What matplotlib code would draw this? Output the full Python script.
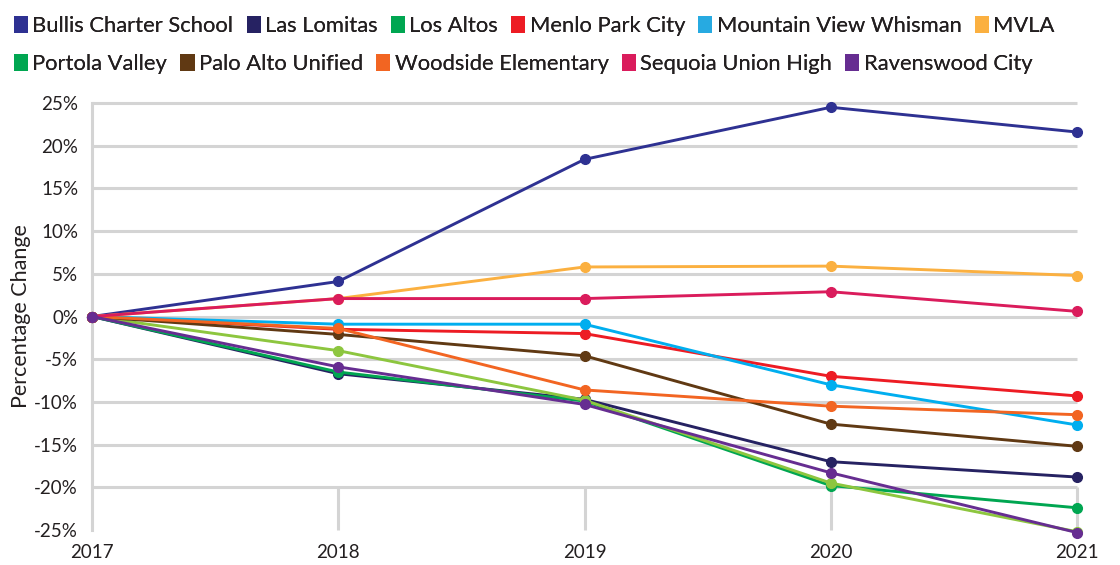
import matplotlib
matplotlib.use("Agg")
import matplotlib.pyplot as plt
from matplotlib.patches import Patch
from matplotlib.ticker import FuncFormatter

years = [2017, 2018, 2019, 2020, 2021]

districts = ["Bullis Charter School", "Las Lomitas", "Los Altos", "Menlo Park City",
             "Mountain View Whisman", "MVLA", "Portola Valley", "Palo Alto Unified",
             "Woodside Elementary", "Sequoia Union High", "Ravenswood City"]

bullis = [0, 4.1, 18.4, 24.5, 21.6]
las_lomitas = [0, -6.7, -9.7, -17.0, -18.8]
los_altos = [0, -6.5, -9.9, -19.8, -22.4]
menlo_park = [0, -1.5, -2.0, -7.0, -9.3]
mv_whisman = [0, -0.9, -0.9, -8.0, -12.7]
mvla = [0, 2.1, 5.8, 5.9, 4.8]
portola_valley = [0, -4.0, -9.8, -19.5, -25.2]
palo_alto = [0, -2.1, -4.6, -12.6, -15.2]
woodside = [0, -1.4, -8.6, -10.5, -11.5]
sequoia = [0, 2.1, 2.1, 2.9, 0.6]
ravenswood = [0, -5.9, -10.3, -18.3, -25.3]

series = [bullis, las_lomitas, los_altos, menlo_park, mv_whisman, mvla,
          portola_valley, palo_alto, woodside, sequoia, ravenswood]

line_colors = ["#2e3192", "#262262", "#00a651", "#ed1c24", "#00aeef", "#fbb040",
               "#8dc63f", "#603913", "#f26522", "#da1c5c", "#662d91"]
legend_colors = ["#2e3192", "#262262", "#00a651", "#ed1c24", "#27aae1", "#fbb040",
                 "#00a651", "#603913", "#f26522", "#da1c5c", "#662d91"]

y_ticks = [-25, -20, -15, -10, -5, 0, 5, 10, 15, 20, 25]

TEXT = "#231f20"
GRID = "#d4d4d4"
plt.rcParams["font.family"] = ["Lato", "DejaVu Sans"]

fig = plt.figure(figsize=(11.2, 5.65), dpi=100)
ax = fig.add_axes([92 / 1120, 1 - 530 / 565, (1077 - 92) / 1120, (530 - 103) / 565])

ax.set_xlim(years[0], years[-1])
ax.set_ylim(y_ticks[0], y_ticks[-1])

# grid
ax.hlines(y_ticks[1:], years[0], years[-1], color=GRID, lw=2.2, zorder=0, clip_on=False)
ax.vlines(years[1:], y_ticks[0], y_ticks[1], color=GRID, lw=2.2, zorder=0, clip_on=False)

for s in ["top", "right", "bottom"]:
    ax.spines[s].set_visible(False)
ax.spines["left"].set_color(GRID)
ax.spines["left"].set_linewidth(2.2)
ax.spines["left"].set_zorder(0)

for vals, col in zip(series, line_colors):
    ax.plot(years, vals, color=col, lw=2.1, marker="o", markersize=7,
            clip_on=False, zorder=3)

ax.set_xticks(years)
ax.set_xticklabels([str(y) for y in years])
ax.set_yticks(y_ticks)
ax.yaxis.set_major_formatter(FuncFormatter(lambda v, p: f"{int(v)}%"))
ax.tick_params(axis="both", length=0, labelsize=13.5, colors=TEXT)
ax.tick_params(axis="y", pad=10)
ax.tick_params(axis="x", pad=10)
ax.set_ylabel("Percentage Change", fontsize=15.5, color=TEXT, labelpad=2)

handles = [Patch(facecolor=c, edgecolor="none") for c in legend_colors]
rows = [(0, 6, 1 - 26 / 565), (6, 11, 1 - 64 / 565)]
for a, b, yy in rows:
    leg = fig.legend(handles[a:b], districts[a:b], loc="center left",
                     bbox_to_anchor=(14 / 1120, yy), ncol=b - a, frameon=False,
                     fontsize=15.8, handlelength=0.64, handleheight=0.78,
                     handletextpad=0.2, columnspacing=0.6, borderpad=0,
                     borderaxespad=0)
    for t in leg.get_texts():
        t.set_color(TEXT)
    fig.add_artist(leg)

fig.savefig("out.png", dpi=100)
